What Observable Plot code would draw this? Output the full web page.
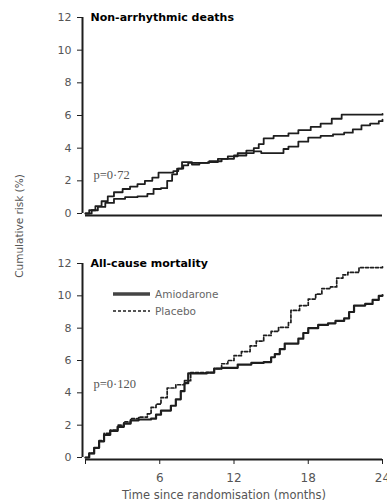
<!DOCTYPE html>
<html><head><meta charset="utf-8">
<script src="https://cdn.jsdelivr.net/npm/d3@7"></script>
<script src="https://cdn.jsdelivr.net/npm/@observablehq/plot@0.6"></script>
<style>
body{margin:0;background:#fff;font-family:"DejaVu Sans",sans-serif;}
#wrap{position:relative;width:387px;height:502px;overflow:hidden;}
#ylab{position:absolute;left:19px;top:226px;transform:translate(-50%,-50%) rotate(-90deg);white-space:nowrap;font-size:10.5px;color:#555;}
#legend{position:absolute;left:110px;top:284px;}
</style></head><body>
<div id="wrap"><div id="top"></div><div id="bottom"></div><div id="ylab">Cumulative risk (%)</div><div id="legend"></div></div>
<script>
// ---- data (months, cumulative risk %) ----
const seriesNames = ["Amiodarone", "Placebo"];
const panelTitles = ["Non-arrhythmic deaths", "All-cause mortality"];
const pValues = ["p=0·72", "p=0·120"];
const yTicks = [0, 2, 4, 6, 8, 10, 12];
const xTicks = [0, 6, 12, 18, 24];
const xLabel = "Time since randomisation (months)";

const nonArrAmio = [[0,0],[0.3,0.2],[0.8,0.45],[1.3,0.75],[1.8,1.05],[2.3,1.3],[3.0,1.5],[3.6,1.65],[4.2,1.8],[4.8,2.0],[5.4,2.2],[5.9,2.5],[7.1,2.6],[7.5,2.75],[7.9,2.95],[8.3,3.1],[9.9,3.15],[10.7,3.35],[11.5,3.5],[12.3,3.7],[13.0,3.85],[13.6,4.0],[14.0,4.25],[14.4,4.6],[15.2,4.75],[16.4,4.9],[17.2,5.1],[18.2,5.3],[19.0,5.5],[19.9,5.8],[20.7,6.05],[24,6.1]];
const nonArrPlacebo = [[0,0],[0.5,0.2],[1.0,0.4],[1.6,0.65],[2.3,0.9],[3.2,1.0],[4.2,1.05],[5.0,1.2],[5.5,1.5],[6.1,1.55],[6.6,2.0],[7.0,2.4],[7.4,2.75],[7.8,3.15],[8.6,3.0],[9.2,3.1],[10.0,3.2],[11.0,3.35],[12.0,3.55],[13.0,3.7],[13.6,3.8],[14.2,3.7],[15.6,3.7],[16.0,3.95],[16.4,4.1],[17.2,4.4],[18.0,4.65],[19.0,4.75],[20.0,4.85],[20.9,4.95],[21.6,5.15],[22.3,5.4],[23.0,5.5],[23.7,5.65],[24,5.75]];

const allAmio = [[0,0],[0.3,0.25],[0.7,0.6],[1.1,1.0],[1.5,1.4],[2.0,1.65],[2.6,1.9],[3.1,2.1],[3.65,2.3],[4.3,2.35],[5.3,2.4],[5.7,2.65],[6.1,2.9],[6.9,3.2],[7.3,3.6],[7.7,4.1],[8.0,4.6],[8.3,5.2],[9.8,5.25],[10.4,5.5],[11.0,5.55],[12.3,5.75],[13.4,5.85],[14.4,5.9],[15.0,6.2],[15.3,6.4],[15.7,6.7],[16.1,7.05],[17.2,7.35],[17.6,7.7],[18.0,8.0],[18.8,8.2],[19.6,8.3],[20.2,8.45],[20.9,8.6],[21.3,9.0],[21.7,9.4],[22.6,9.5],[23.2,9.75],[23.7,10.0],[24,10.05]];
const allPlacebo = [[0,0],[0.3,0.25],[0.7,0.6],[1.1,1.05],[1.5,1.5],[2.0,1.7],[2.6,2.0],[3.1,2.2],[3.65,2.4],[4.3,2.5],[5.0,2.7],[5.3,3.1],[5.7,3.3],[6.1,3.7],[6.6,4.3],[7.3,4.5],[8.0,4.75],[8.5,5.25],[9.8,5.25],[10.4,5.5],[11.0,5.8],[11.5,6.0],[12.0,6.3],[12.6,6.55],[13.3,6.9],[13.8,7.2],[14.4,7.55],[15.0,7.8],[15.6,8.05],[16.4,8.35],[16.6,9.1],[17.3,9.4],[18.0,9.8],[18.6,10.1],[19.1,10.45],[19.8,10.55],[20.3,11.1],[20.8,11.3],[21.2,11.45],[22.1,11.75],[24,11.8]];

const ink = "#1e1e1e";
const baseStyle = {fontFamily: "DejaVu Sans, sans-serif", fontSize: "11px", color: "#555", background: "white", overflow: "visible"};

function panel({height, marginTop, marginBottom, amio, placebo, title, p, dashed, showX}) {
  const marks = [
    Plot.ruleX([0], {dx: -3, stroke: ink, strokeWidth: 2}),
    Plot.ruleY([0], {dy: 2, stroke: ink, strokeWidth: 2}),
    Plot.axisY(yTicks, {tickSize: 5, tickPadding: 6, dx: -3, stroke: ink, label: null, fontSize: 11}),
    Plot.line(placebo, {x: d => d[0], y: d => d[1], curve: "step-after", stroke: ink, strokeWidth: dashed ? 1.7 : 1.8, strokeDasharray: dashed ? "3,2" : null}),
    Plot.line(amio, {x: d => d[0], y: d => d[1], curve: "step-after", stroke: ink, strokeWidth: dashed ? 2.2 : 1.8}),
    Plot.text([title], {frameAnchor: "top-left", dx: 5, dy: 0, lineAnchor: "middle", textAnchor: "start", fontWeight: "bold", fontSize: 11, fill: "#000"}),
    Plot.text([p], {frameAnchor: "top-left", dx: 8, dy: p === pValues[0] ? 157 : 120, lineAnchor: "middle", textAnchor: "start", fontFamily: "Liberation Serif, serif", fontSize: 12.5, fill: "#555"})
  ];
  if (showX) {
    marks.push(Plot.axisX(xTicks, {tickSize: 5, tickPadding: 9, dy: 2, stroke: ink, tickFormat: d => d === 0 ? "" : d, label: null, fontSize: 12}));
    marks.push(Plot.text([xLabel], {frameAnchor: "bottom", dx: -10, dy: 38, lineAnchor: "middle", fontSize: 11.5, fill: "#555"}));
  }
  return Plot.plot({
    width: 387, height, marginTop, marginBottom, marginLeft: 85, marginRight: 5,
    style: baseStyle,
    x: {domain: [0, 24], axis: null},
    y: {domain: [0, 12], axis: null},
    marks
  });
}

document.getElementById("top").append(panel({height: 222, marginTop: 17, marginBottom: 9, amio: nonArrAmio, placebo: nonArrPlacebo, title: panelTitles[0], p: pValues[0], dashed: false, showX: false}));
document.getElementById("bottom").append(panel({height: 280, marginTop: 41, marginBottom: 45, amio: allAmio, placebo: allPlacebo, title: panelTitles[1], p: pValues[1], dashed: true, showX: true}));

// legend
const lg = d3.select("#legend").append("svg").attr("width", 140).attr("height", 34)
  .style("font-family", "DejaVu Sans, sans-serif").style("font-size", "10.5px");
seriesNames.forEach((name, i) => {
  const y = 10 + i * 17;
  lg.append("line").attr("x1", 3).attr("x2", 40).attr("y1", y).attr("y2", y)
    .attr("stroke", i === 0 ? "#444" : ink).attr("stroke-width", i === 0 ? 3.5 : 1.7)
    .attr("stroke-dasharray", i === 0 ? null : "3,2");
  lg.append("text").attr("x", 45).attr("y", y).attr("dy", "0.35em").attr("fill", "#666").text(name);
});
</script>
</body></html>
